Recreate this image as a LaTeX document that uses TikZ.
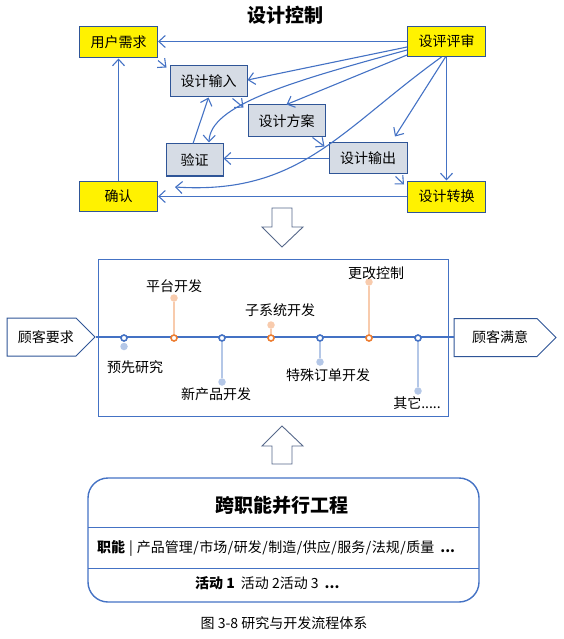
\documentclass[tikz,border=0pt]{standalone}
\usepackage{fontspec}
\setmainfont{Noto Sans CJK SC}
\usetikzlibrary{arrows.meta,shapes.symbols,calc}
\definecolor{ab}{HTML}{4472C4}
\definecolor{bb}{HTML}{2F5597}
\definecolor{gf}{HTML}{D6DCE5}
\definecolor{lb}{HTML}{B4C7E7}
\definecolor{lo}{HTML}{F8CBAD}
\definecolor{ob}{HTML}{ED7D31}
\definecolor{ga}{HTML}{56688A}
\newcommand\slsep{\hspace{0.5pt}/\hspace{0.5pt}}
\begin{document}
\begin{tikzpicture}[x=1pt,y=-1pt,
  txt/.style={font=\fontsize{14}{16}\selectfont, inner sep=0pt},
  box/.style={txt, draw=bb, line width=1pt, minimum height=31pt},
  ybox/.style={box, fill=yellow, minimum width=78pt},
  gbox/.style={box, fill=gf},
  conn/.style={draw=ab, line width=1.1pt, -{Straight Barb[length=6.5pt,width=12pt]}},
  penta/.style={txt, signal, signal to=east, signal pointer angle=90, draw=bb, line width=1pt, fill=white, minimum height=38pt},
  mk/.style={circle, draw=#1, fill=white, line width=1.6pt, minimum size=6pt, inner sep=0pt},
  dot/.style={circle, fill=#1, minimum size=7.5pt, inner sep=0pt},
  stem/.style={draw=#1, line width=1.3pt},
  blockarrow/.style={draw=ga, line width=0.9pt, fill=white},
  lab/.style={txt}
]
\useasboundingbox (0,0) rectangle (563,639);

% ---------- top: design control ----------
\node[txt, font=\fontsize{19}{21}\selectfont\bfseries] (title) at (285,15) {设计控制};

\node[ybox] (user) at (118.5,42.5) {用户需求};
\node[ybox, minimum height=30pt] (rev) at (446.5,41.5) {设评评审};
\node[gbox, minimum width=77pt] (inp) at (208.5,81.5) {设计输入};
\node[gbox, minimum width=77pt, minimum height=32pt] (plan) at (286.5,121) {设计方案};
\node[gbox, minimum width=57pt, minimum height=32pt] (ver) at (194.5,160) {验证};
\node[gbox, minimum width=78pt] (out) at (368,158.5) {设计输出};
\node[ybox, minimum height=30pt] (conf) at (118.5,196) {确认};
\node[ybox] (trans) at (446.5,196.5) {设计转换};
\coordinate (cend) at (175,187);

\draw[conn] (rev.west) -- (rev.west -| user.east);
\draw[conn] ($(rev.west)+(0,5.5)$) -- ($(inp.east)+(0,-1.5)$);
\draw[conn] ($(rev.west)+(0,8.5)$) .. controls (290,82) and (210,105) .. ($(ver.north)+(14.5,-1)$);
\draw[conn] ($(rev.west)+(0,13.5)$) -- (plan.north);
\draw[conn] ($(rev.south)+(-1,0)$) -- ($(out.north)+(27,-6)$);
\draw[conn] (rev.south) -- (trans.north);
\draw[conn] ($(rev.south)+(-5,0)$) .. controls (340,130) and (300,195) .. (cend);
\draw[conn] ($(user.south east)+(0,2)$) -- ($(inp.north west)+(-3,2)$);
\draw[conn] ($(ver.north)+(-1.5,0)$) -- (inp.south);
\draw[conn] ($(inp.south east)+(-15,1)$) -- ($(plan.north west)+(-4,3)$);
\draw[conn] ($(plan.south east)+(-13,0)$) -- ($(out.north west)+(-4,4)$);
\draw[conn] (out.west) -- (out.west -| ver.east);
\draw[conn] ($(out.south east)+(-12,2)$) -- ($(trans.north west)+(-3,4)$);
\draw[conn] (trans.west) -- (trans.west -| conf.east);
\draw[conn] (conf.north) -- (user.south);

% ---------- down block arrow ----------
\draw[blockarrow] (272,208) -- (292,208) -- (292,227) -- (303,227) -- (282,247) -- (262,227) -- (272,227) -- cycle;

% ---------- middle: timeline ----------
\draw[draw=ab, line width=1pt] (98,259) rectangle (448,416);
\node[penta, minimum width=88pt] (ask) at (41.5,337) {\hspace*{9pt}顾客要求};
\node[penta, minimum width=102pt] (sat) at (495.5,337.5) {\hspace*{9pt}顾客满意};
\draw[draw=ab, line width=2pt] (ask.east) -- (ask.east -| sat.west);

\node[mk=ab] (m1) at (124,338) {};
\node[mk=ob] (m2) at (174,338) {};
\node[mk=ab] (m3) at (222,338) {};
\node[mk=ob] (m4) at (271,338) {};
\node[mk=ab] (m5) at (320,338) {};
\node[mk=ob] (m6) at (369,338) {};
\node[mk=ab] (m7) at (418,338) {};

\node[dot=lb] (d1) at (124,346.5) {};
\node[dot=lo] (d2) at (174,298) {};
\node[dot=lb] (d3) at (222,382) {};
\node[dot=lo] (d4) at (271,325) {};
\node[dot=lb] (d5) at (320,362) {};
\node[dot=lo] (d6) at (369,282) {};
\node[dot=lb] (d7) at (418,391) {};

\draw[stem=lo] (m2) -- (d2);
\draw[stem=lb] (m3) -- (d3);
\draw[stem=lo] (m4) -- (d4);
\draw[stem=lb] (m5) -- (d5);
\draw[stem=lo] (m6) -- (d6);
\draw[stem=lb] (m7) -- (d7);

\node[lab] (l1) at (135,367) {预先研究};
\node[lab] (l2) at (174,286) {平台开发};
\node[lab] (l3) at (216,394) {新产品开发};
\node[lab] (l4) at (280,310) {子系统开发};
\node[lab] (l5) at (328,375) {特殊订单开发};
\node[lab] (l6) at (376,273) {更改控制};
\node[lab] (l7) at (417,403) {其它.....};

% ---------- up block arrow ----------
\draw[blockarrow] (282,426) -- (303,446) -- (292,446) -- (292,464) -- (272,464) -- (272,446) -- (262,446) -- cycle;

% ---------- bottom: cross-functional ----------
\draw[draw=ab, line width=1.4pt, rounded corners=20pt] (88,478) rectangle (479,602);
\draw[draw=ab, line width=1pt] (88,527) -- (479,527);
\draw[draw=ab, line width=1pt] (88,568) -- (479,568);
\node[txt, font=\fontsize{19}{21}\selectfont\bfseries] (cfe) at (282,505) {跨职能并行工程};
\node[txt, anchor=west] (fun) at (97,548) {{\bfseries 职能}\hspace{4pt}|\hspace{4pt}产品管理\slsep 市场\slsep 研发\slsep 制造\slsep 供应\slsep 服务\slsep 法规\slsep 质量\hspace{6pt}{\bfseries ...}};
\node[txt, anchor=west] (act) at (195,583) {{\bfseries 活动 1}\hspace{6pt}活动 2活动 3\hspace{6pt}{\bfseries ...}};
\node[txt] (cap) at (284,623) {图 3-8 研究与开发流程体系};
\end{tikzpicture}
\end{document}
